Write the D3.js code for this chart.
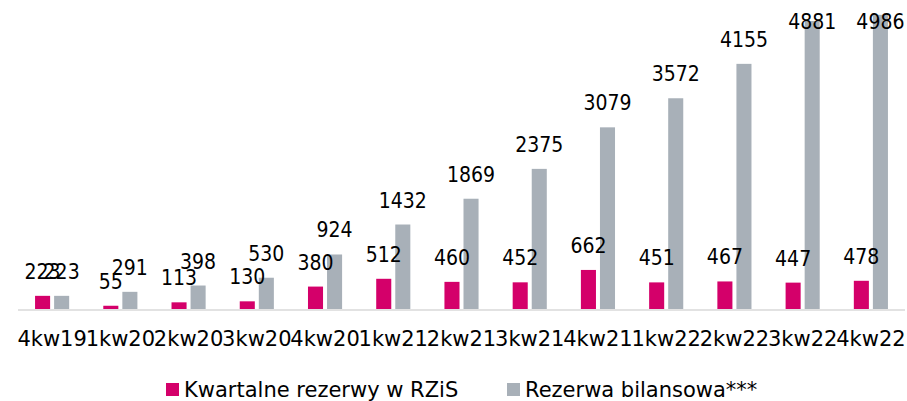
<!DOCTYPE html>
<html>
<head>
<meta charset="utf-8">
<script src="https://cdn.jsdelivr.net/npm/d3@7"></script>
<style>
  body { margin: 0; background: #fff; }
  text { font-family: "DejaVu Sans", sans-serif; fill: #000; }
  .val { font-family: "DejaVu Sans Condensed", "DejaVu Sans", sans-serif; }
</style>
</head>
<body>
<div id="chart"></div>
<script>
width = 907
height = 401

// data
categories = ["4kw19", "1kw20", "2kw20", "3kw20", "4kw20", "1kw21", "2kw21", "3kw21", "4kw21", "1kw22", "2kw22", "3kw22", "4kw22"]
seriesNames = ["Kwartalne rezerwy w RZiS", "Rezerwa bilansowa***"]
kwartalne = [223, 55, 113, 130, 380, 512, 460, 452, 662, 451, 467, 447, 478]
bilansowa = [223, 291, 398, 530, 924, 1432, 1869, 2375, 3079, 3572, 4155, 4881, 4986]

colors = ["#d4006a", "#a8b0b8"]

rows = categories.map((c, i) => ({cat: c, values: [kwartalne[i], bilansowa[i]]}))

const svg = d3.select("#chart")
  .append("svg")
    .attr("width", width)
    .attr("height", height)

const x0 = d3.scaleBand()
    .domain(categories)
    .range([18, 905])
    .paddingInner(0.5)
    .paddingOuter(0.25)

const x1 = d3.scaleBand()
    .domain([0, 1])
    .range([0, x0.bandwidth()])
    .paddingInner(0.21)

const y = d3.scaleLinear()
    .domain([0, 5000])
    .range([309, 14])

// bars
const groups = svg.selectAll(".grp")
  .data(rows)
  .enter().append("g")
    .attr("class", "grp")
    .attr("transform", d => `translate(${x0(d.cat)},0)`)

groups.selectAll("rect")
  .data(d => d.values)
  .enter().append("rect")
    .attr("x", (d, i) => x1(i))
    .attr("width", x1.bandwidth())
    .attr("y", d => y(d))
    .attr("height", d => y(0) - y(d))
    .attr("fill", (d, i) => colors[i])

// value labels (pushed down when they would leave the chart, like excel does)
groups.selectAll(".val")
  .data(d => d.values)
  .enter().append("text")
    .attr("class", "val")
    .attr("x", (d, i) => x1(i) + x1.bandwidth() / 2)
    .attr("y", d => Math.max(y(d) - 17, 29))
    .attr("text-anchor", "middle")
    .attr("font-size", 21)
    .text(d => d)

// x axis
const xAxis = svg.append("g")
    .attr("transform", `translate(0,${y(0) + 1})`)
    .call(d3.axisBottom(x0).tickSize(0).tickPadding(0))

xAxis.select(".domain")
    .attr("d", `M18,0H905`)
    .attr("stroke", "#d9d9d9")
    .attr("stroke-width", 1.5)

xAxis.selectAll(".tick text")
    .attr("y", 36)
    .attr("dy", 0)
    .attr("font-size", 21)
    .attr("font-family", "DejaVu Sans")
    .attr("fill", "#000")

// legend
const legendX = [166, 507]
const legend = svg.selectAll(".legend")
  .data(seriesNames)
  .enter().append("g")
    .attr("class", "legend")
    .attr("transform", (d, i) => `translate(${legendX[i]},383)`)

legend.append("rect")
    .attr("width", 13)
    .attr("height", 13)
    .attr("fill", (d, i) => colors[i])

legend.append("text")
    .attr("x", 18)
    .attr("y", 14)
    .attr("font-size", 21)
    .text(d => d)
</script>
</body>
</html>
